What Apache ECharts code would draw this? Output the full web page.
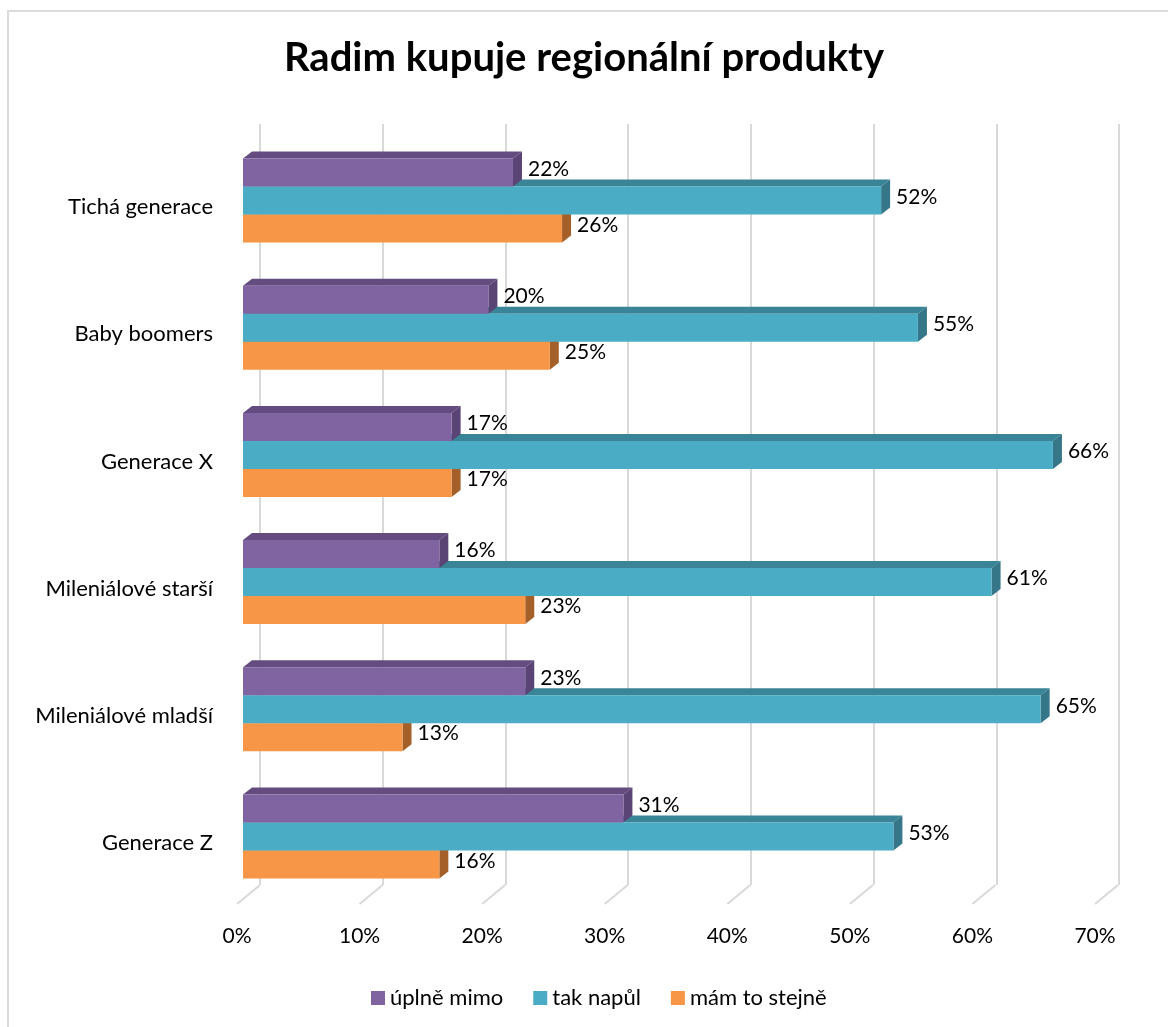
<!DOCTYPE html>
<html>
<head>
<meta charset="utf-8">
<script src="https://cdn.jsdelivr.net/npm/echarts@6/dist/echarts.min.js"></script>
<style>
  html, body { margin: 0; padding: 0; background: #fff; }
  #chart { width: 1168px; height: 1027px; }
</style>
</head>
<body>
<div id="chart"></div>
<script>
// data
var categories = ['Tichá generace', 'Baby boomers', 'Generace X', 'Mileniálové starší', 'Mileniálové mladší', 'Generace Z'];
var uplneMimo = [22, 20, 17, 16, 23, 31];
var takNapul = [52, 55, 66, 61, 65, 53];
var mamToStejne = [26, 25, 17, 23, 13, 16];
var ticks = [0, 10, 20, 30, 40, 50, 60, 70];

var FONT = 'Lato';
var DX = 9, DY = -7;

// 3d-ish bar: front face + top face + right face, label after it
function bar3d(slot, front, top, side) {
  return function (params, api) {
    var val = api.value(0), cat = api.value(1);
    var s = api.coord([0, cat]);
    var e = api.coord([val, cat]);
    var band = api.size([0, 1])[1];
    var h = band * 0.22;
    var y0 = s[1] + (slot - 0.5) * h;
    var x0 = s[0], x1 = e[0];
    return {
      type: 'group',
      children: [
        { type: 'polygon', shape: { points: [[x0, y0], [x1, y0], [x1 + DX, y0 + DY], [x0 + DX, y0 + DY]] }, style: { fill: top } },
        { type: 'polygon', shape: { points: [[x1, y0], [x1 + DX, y0 + DY], [x1 + DX, y0 + DY + h], [x1, y0 + h]] }, style: { fill: side } },
        { type: 'rect', shape: { x: x0, y: y0, width: x1 - x0, height: h }, style: { fill: front } },
        { type: 'text', x: x1 + DX + 6, y: y0 + h / 2 + DY / 2,
          style: { text: val + '%', fill: '#000', font: '21px ' + FONT, verticalAlign: 'middle', align: 'left' } }
      ]
    };
  };
}

function rows(arr) {
  return arr.map(function (v, i) { return [v, i]; });
}

var chart = echarts.init(document.getElementById('chart'));

var option = {
  backgroundColor: '#fff',
  animation: false,
  textStyle: { fontFamily: FONT },
  title: {
    text: 'Radim kupuje regionální produkty',
    left: 'center',
    top: 33,
    textStyle: { fontFamily: FONT, fontSize: 40, fontWeight: 'bold', color: '#000' }
  },
  legend: {
    data: ['úplně mimo', 'tak napůl', 'mám to stejně'],
    top: 982,
    left: 366,
    icon: 'rect',
    itemWidth: 14,
    itemHeight: 14,
    itemGap: 30,
    textStyle: { fontFamily: FONT, fontSize: 22, color: '#000' }
  },
  graphic: [
    { type: 'polyline', shape: { points: [[8, 1040], [8, 11], [1180, 11]] }, style: { stroke: '#dcdcdc', lineWidth: 2, fill: null } }
  ],
  grid: [
    { left: 243, width: 859, top: 137, height: 763 },   // bars
    { left: 237, width: 858, top: 124, height: 780 },   // front floor + tick labels
    { left: 260, width: 859, top: 124, height: 761 }    // back wall gridlines
  ],
  xAxis: [
    { gridIndex: 0, type: 'value', min: 0, max: 70, interval: 10, show: false },
    { gridIndex: 1, type: 'value', min: 0, max: 70, interval: 10,
      axisLine: { show: false }, axisTick: { show: false }, splitLine: { show: false },
      axisLabel: { formatter: '{value}%', fontSize: 21, color: '#000', fontFamily: FONT, margin: 22 } },
    { gridIndex: 2, type: 'value', min: 0, max: 70, interval: 10,
      axisLine: { show: false }, axisTick: { show: false }, axisLabel: { show: false },
      splitLine: { show: true, lineStyle: { color: '#d9d9d9', width: 2 } } }
  ],
  yAxis: [
    { gridIndex: 0, type: 'category', data: categories, inverse: true,
      axisLine: { show: false }, axisTick: { show: false },
      axisLabel: { margin: 30, formatter: '{a|{value}}',
        rich: { a: { fontSize: 22, color: '#000', fontFamily: FONT, padding: [13, 0, 0, 0] } } } },
    { gridIndex: 1, type: 'value', min: 0, max: 1, show: false },
    { gridIndex: 2, type: 'value', min: 0, max: 1, show: false }
  ],
  series: [
    {
      name: 'floor', type: 'custom', xAxisIndex: 1, yAxisIndex: 1, silent: true,
      data: ticks.map(function (t) { return [t, 0]; }),
      renderItem: function (params, api) {
        var p = api.coord([api.value(0), 0]);
        return { type: 'line', shape: { x1: p[0], y1: p[1], x2: p[0] + 23, y2: p[1] - 19 },
                 style: { stroke: '#d9d9d9', lineWidth: 2 } };
      }
    },
    {
      name: 'mám to stejně', type: 'custom', xAxisIndex: 0, yAxisIndex: 0,
      itemStyle: { color: '#F79646' },
      encode: { x: 0, y: 1 },
      data: rows(mamToStejne),
      renderItem: bar3d(1, '#F79646', '#B86E30', '#A5602A')
    },
    {
      name: 'tak napůl', type: 'custom', xAxisIndex: 0, yAxisIndex: 0,
      itemStyle: { color: '#4BACC6' },
      encode: { x: 0, y: 1 },
      data: rows(takNapul),
      renderItem: bar3d(0, '#4BACC6', '#3A8497', '#357688')
    },
    {
      name: 'úplně mimo', type: 'custom', xAxisIndex: 0, yAxisIndex: 0,
      itemStyle: { color: '#8064A2' },
      encode: { x: 0, y: 1 },
      data: rows(uplneMimo),
      renderItem: bar3d(-1, '#8064A2', '#644C80', '#5A4475')
    }
  ]
};

chart.setOption(option);
</script>
</body>
</html>
